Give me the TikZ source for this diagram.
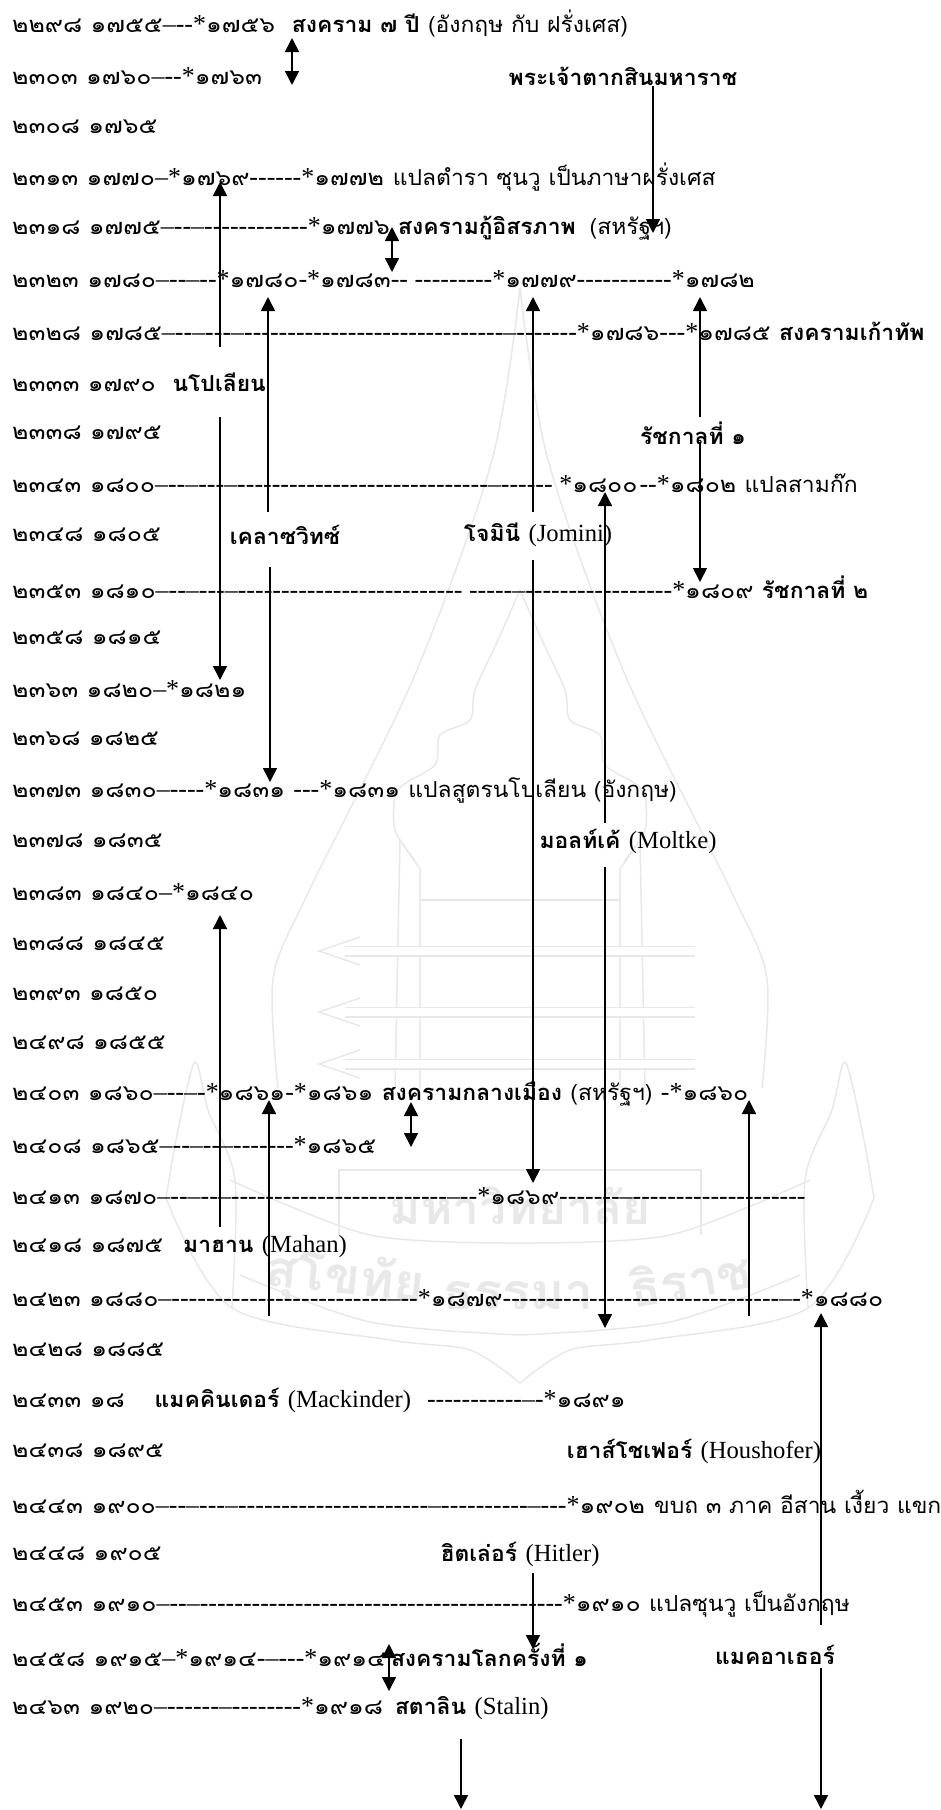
\documentclass[tikz,border=0pt]{standalone}
\usepackage{fontspec}
\setmainfont{Liberation Serif}
\newfontfamily\numfont[Script=Thai,FakeStretch=1.13]{Loma}
\newfontfamily\thaifont[Script=Thai,FakeStretch=1.04]{Loma}
\newfontfamily\dashfont[Scale=1.18]{Liberation Serif}
\newfontfamily\latfont[Scale=1.12]{Liberation Serif}
\usetikzlibrary{arrows.meta}
\tikzset{
  rowtext/.style={anchor=west, inner sep=0pt, font=\fontsize{22}{24}\selectfont\numfont},
  evtext/.style={rowtext, anchor=center},
  flow/.style={line width=1.6pt, -{Triangle[length=14pt,width=14pt]}},
  both/.style={line width=1.6pt, {Triangle[length=14pt,width=14pt]}-{Triangle[length=14pt,width=14pt]}},
  wm/.style={draw=black!9, line width=1.5pt},
  wmtext/.style={inner sep=0pt, text=black!9, font=\fontsize{50}{54}\selectfont\thaifont\bfseries}
}
\newcommand{\lat}[1]{{\latfont #1}}
\newcommand{\dd}[1]{{\dashfont #1}}
\newcommand{\hy}[1]{\foreach \hyi in {1,...,#1}{-}}
\newcommand{\tw}[1]{{\thaifont #1}}
\newcommand{\tb}[1]{{\thaifont\bfseries #1}}
\begin{document}
\begin{tikzpicture}[x=1pt, y=-1pt]
  \useasboundingbox (0,0) rectangle (940,1810);

  % watermark
  \foreach \s in {1,-1} {
    \begin{scope}[shift={(520,0)}, xscale=\s]
      \draw[wm] plot[smooth] coordinates {(0,288) (-28,460) (-106,677) (-214,897) (-247,979) (-242,1088)};
      \draw[wm] plot[smooth] coordinates {(-354,1198) (-288,1308) (-130,1340) (-50,1350) (0,1383)};
      \draw[wm] plot[smooth] coordinates {(-354,1198) (-342,1130) (-325,1062) (-312,1110) (-285,1180) (-288,1308)};
      \draw[wm] plot[smooth] coordinates {(0,590) (-22,640) (-45,690) (-50,720) (-80,735) (-85,765) (-122,790) (-125,830) (-105,860)};
      \draw[wm] plot[smooth] coordinates {(-290,1180) (-150,1235) (0,1243)};
      \draw[wm] plot[smooth] coordinates {(-280,1275) (-150,1322) (0,1335)};
      \draw[wm] (-100,1088) -- (-100,869) -- (-120,840) -- (-125,1088);
      \draw[wm] (-181,1235) -- (-181,1170) -- (0,1170);
      \draw[wm] (-100,900) -- (0,900);
    \end{scope}
  }
  \foreach \y in {951,1012,1064} {
    \draw[wm, double, double distance=8pt] (345,\y) -- (695,\y);
    \draw[wm] (360,\y-14) -- (319,\y) -- (360,\y+14);
  }
  \node[wmtext, font=\fontsize{46}{50}\selectfont\thaifont\bfseries] (wmname) at (520,1206) {มหาวิทยาลัย};
  \node[wmtext, rotate=-6] (wmleft) at (345,1280) {สุโขทัย};
  \node[wmtext] (wmmid) at (518,1296) {ธรรมา};
  \node[wmtext, rotate=10] (wmright) at (690,1278) {ธิราช};

  % years
  \node[rowtext] (r01) at (12,24) {๒๒๙๘ ๑๗๕๕\dd{–--*}๑๗๕๖ \ \tb{สงคราม ๗ ปี} \tw{(อังกฤษ กับ ฝรั่งเศส)}};
  \node[rowtext] (r02) at (12,76) {๒๓๐๓ ๑๗๖๐\dd{–--*}๑๗๖๓};
  \node[rowtext] (r03) at (12,127) {๒๓๐๘ ๑๗๖๕};
  \node[rowtext] (r04) at (12,177) {๒๓๑๓ ๑๗๗๐\dd{–*}๑๗๖๙\dd{\hy{6}*}๑๗๗๒\hspace{9pt}\tw{แปลตำรา ซุนวู เป็นภาษาฝรั่งเศส}};
  \node[rowtext] (r05) at (12,228) {๒๓๑๘ ๑๗๗๕\dd{–--–\hy{12}*}๑๗๗๖ \tb{สงครามกู้อิสรภาพ}\hspace{14pt}\tw{(สหรัฐฯ)}};
  \node[rowtext] (r06) at (12,279) {๒๓๒๓ ๑๗๘๐\dd{–--–--*}๑๗๘๐\dd{-*}๑๗๘๓\dd{-- \hy{9}*}๑๗๗๙\dd{\hy{11}*}๑๗๘๒};
  \node[rowtext] (r07) at (12,331) {๒๓๒๘ ๑๗๘๕\dd{–--–---–\hy{30}–\hy{7}*}๑๗๘๖\dd{---*}๑๗๘๕ \tb{สงครามเก้าทัพ}};
  \node[rowtext] (r08) at (12,382) {๒๓๓๓ ๑๗๙๐ \ \tb{นโปเลียน}};
  \node[rowtext] (r09) at (12,433) {๒๓๓๘ ๑๗๙๕};
  \node[rowtext] (r10) at (12,483) {๒๓๔๓ ๑๘๐๐\dd{–--–---–\hy{29}–\hy{6} *}๑๘๐๐\hspace{2pt}\dd{--*}๑๘๐๒ \tw{แปลสามก๊ก}};
  \node[rowtext] (r11) at (12,535) {๒๓๔๘ ๑๘๐๕};
  \node[rowtext] (r12) at (12,587) {๒๓๕๓ ๑๘๑๐\dd{–--–---–\hy{26} \hy{5}–\hy{17}*}๑๘๐๙ \tb{รัชกาลที่ ๒}};
  \node[rowtext] (r13) at (12,638) {๒๓๕๘ ๑๘๑๕};
  \node[rowtext] (r14) at (12,689) {๒๓๖๓ ๑๘๒๐\dd{–*}๑๘๒๑};
  \node[rowtext] (r15) at (12,739) {๒๓๖๘ ๑๘๒๕};
  \node[rowtext] (r16) at (12,790) {๒๓๗๓ ๑๘๓๐\dd{–----*}๑๘๓๑ \dd{---*}๑๘๓๑ \tw{แปลสูตรนโปเลียน (อังกฤษ)}};
  \node[rowtext] (r17) at (12,841) {๒๓๗๘ ๑๘๓๕};
  \node[rowtext] (r18) at (12,892) {๒๓๘๓ ๑๘๔๐\dd{–*}๑๘๔๐};
  \node[rowtext] (r19) at (12,944) {๒๓๘๘ ๑๘๔๕};
  \node[rowtext] (r20) at (12,994) {๒๓๙๓ ๑๘๕๐};
  \node[rowtext] (r21) at (12,1043) {๒๔๙๘ ๑๘๕๕};
  \node[rowtext] (r22) at (12,1094) {๒๔๐๓ ๑๘๖๐\dd{–--–-*}๑๘๖๑\dd{-*}๑๘๖๑ \tb{สงครามกลางเมือง} \tw{(สหรัฐฯ)} \dd{-*}๑๘๖๐};
  \node[rowtext] (r23) at (12,1145) {๒๔๐๘ ๑๘๖๕\dd{–--–--–\hy{7}*}๑๘๖๕};
  \node[rowtext] (r24) at (12,1196) {๒๔๑๓ ๑๘๗๐\dd{–--–--–\hy{25}–--*}๑๘๖๙\dd{\hy{7}–\hy{20}}};
  \node[rowtext] (r25) at (12,1247) {๒๔๑๘ ๑๘๗๕\hspace{20pt}\tb{มาฮาน} \lat{(Mahan)}};
  \node[rowtext] (r26) at (12,1298) {๒๔๒๓ ๑๘๘๐\dd{–\hy{25}–--*}๑๘๗๙\dd{\hy{32}–-*}๑๘๘๐};
  \node[rowtext] (r27) at (12,1350) {๒๔๒๘ ๑๘๘๕};
  \node[rowtext] (r28) at (12,1400) {๒๔๓๓ ๑๘\hspace{30pt}\tb{แมคคินเดอร์} \lat{(Mackinder)}\hspace{16pt}\dd{\hy{11}–-*}๑๘๙๑};
  \node[rowtext] (r29) at (12,1451) {๒๔๓๘ ๑๘๙๕};
  \node[rowtext] (r30) at (12,1502) {๒๔๔๓ ๑๙๐๐\dd{–--–---–\hy{22}–\hy{10}–---*}๑๙๐๒\hspace{9pt}\tw{ขบถ ๓ ภาค อีสาน เงี้ยว แขก}};
  \node[rowtext] (r31) at (12,1554) {๒๔๔๘ ๑๙๐๕};
  \node[rowtext] (r32) at (12,1604) {๒๔๕๓ ๑๙๑๐\dd{–--–\hy{42}*}๑๙๑๐ \tw{แปลซุนวู เป็นอังกฤษ}};
  \node[rowtext] (r33) at (12,1655) {๒๔๕๘ ๑๙๑๕\dd{–*}๑๙๑๔\dd{-–---*}๑๙๑๔\hspace{5pt}\tb{สงครามโลกครั้งที่ ๑}};
  \node[rowtext] (r34) at (12,1708) {๒๔๖๓ ๑๙๒๐\dd{–\hy{6}–\hy{8}*}๑๙๑๘\hspace{12pt}\tb{สตาลิน} \lat{(Stalin)}};

  % names
  \node[evtext] (taksin) at (623,76) {\tb{พระเจ้าตากสินมหาราช}};
  \node[evtext] (rama) at (693,433) {\tb{รัชกาลที่ ๑}};
  \node[evtext] (clause) at (285,535) {\tb{เคลาซวิทซ์}};
  \node[evtext] (jomini) at (538,535) {\tb{โจมินี} \lat{(Jomini)}};
  \node[evtext] (moltke) at (628,841) {\tb{มอลท์เค้} \lat{(Moltke)}};
  \node[evtext] (haus) at (694,1451) {\tb{เฮาส์โชเฟอร์} \lat{(Houshofer)}};
  \node[evtext] (hitler) at (520,1554) {\tb{ฮิตเล่อร์} \lat{(Hitler)}};
  \node[evtext] (macarthur) at (775,1655) {\tb{แมคอาเธอร์}};

  % free ends
  \coordinate (a1) at (292,38);   \coordinate (a2) at (292,85);
  \coordinate (b1) at (392,227);  \coordinate (b2) at (392,272);
  \coordinate (c1) at (411,1102); \coordinate (c2) at (411,1147);
  \coordinate (d1) at (389,1644); \coordinate (d2) at (389,1691);
  \coordinate (taksinS) at (653,86);    \coordinate (taksinE) at (653,233);
  \coordinate (napU) at (220,347);      \coordinate (napT) at (220,182);
  \coordinate (napD) at (220,417);      \coordinate (napE) at (220,680);
  \coordinate (clauseU) at (268,512);   \coordinate (clauseT) at (268,297);
  \coordinate (clauseD) at (270,567);   \coordinate (clauseE) at (270,782);
  \coordinate (jominiU) at (533,512);   \coordinate (jominiT) at (533,297);
  \coordinate (jominiD) at (533,560);   \coordinate (jominiE) at (533,1183);
  \coordinate (ramaU) at (700,417);     \coordinate (ramaT) at (700,297);
  \coordinate (ramaD) at (700,442);     \coordinate (ramaE) at (700,582);
  \coordinate (moltkeU) at (605,823);   \coordinate (moltkeT) at (605,492);
  \coordinate (moltkeD) at (605,867);   \coordinate (moltkeE) at (605,1328);
  \coordinate (mahanU) at (220,1227);   \coordinate (mahanT) at (220,915);
  \coordinate (warL) at (269,1316);     \coordinate (warLT) at (269,1100);
  \coordinate (warR) at (749,1316);     \coordinate (warRT) at (749,1100);
  \coordinate (macU) at (821,1625);     \coordinate (macT) at (821,1313);
  \coordinate (macD) at (821,1668);     \coordinate (macE) at (821,1809);
  \coordinate (hitlerD) at (533,1573);  \coordinate (hitlerE) at (533,1649);
  \coordinate (stalinD) at (461,1739);  \coordinate (stalinE) at (461,1809);

  % arrows
  \draw[both] (a1) -- (a2);
  \draw[both] (b1) -- (b2);
  \draw[both] (c1) -- (c2);
  \draw[both] (d1) -- (d2);
  \draw[flow] (taksinS) -- (taksinE);
  \draw[flow] (napU) -- (napT);
  \draw[flow] (napD) -- (napE);
  \draw[flow] (clauseU) -- (clauseT);
  \draw[flow] (clauseD) -- (clauseE);
  \draw[flow] (jominiU) -- (jominiT);
  \draw[flow] (jominiD) -- (jominiE);
  \draw[flow] (ramaU) -- (ramaT);
  \draw[flow] (ramaD) -- (ramaE);
  \draw[flow] (moltkeU) -- (moltkeT);
  \draw[flow] (moltkeD) -- (moltkeE);
  \draw[flow] (mahanU) -- (mahanT);
  \draw[flow] (warL) -- (warLT);
  \draw[flow] (warR) -- (warRT);
  \draw[flow] (macU) -- (macT);
  \draw[flow] (macD) -- (macE);
  \draw[flow] (hitlerD) -- (hitlerE);
  \draw[flow] (stalinD) -- (stalinE);
\end{tikzpicture}
\end{document}
